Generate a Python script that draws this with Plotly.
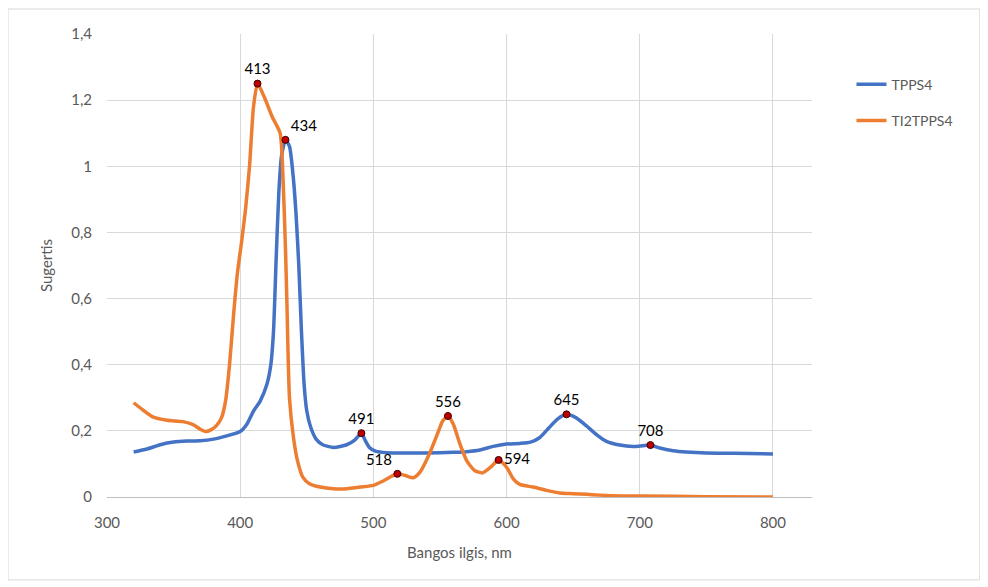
import plotly.graph_objects as go

# ---------------- data ----------------
tpps4_x = [320, 330, 340, 350, 360, 370, 380, 390, 400, 405, 410, 415, 420, 423, 425, 427, 429, 431, 434,
           437, 440, 442, 444, 446, 448, 450, 453, 457, 462, 470, 480, 486, 491, 494, 497, 502, 510, 520,
           540, 560, 570, 580, 590, 600, 610, 618, 625, 632, 638, 645, 652, 660, 668, 675, 685, 695, 702,
           708, 715, 725, 735, 750, 770, 800]
tpps4_y = [0.136, 0.145, 0.158, 0.166, 0.169, 0.170, 0.175, 0.185, 0.198, 0.22, 0.26, 0.29, 0.34, 0.40,
           0.50, 0.72, 0.92, 1.03, 1.08, 1.06, 0.96, 0.85, 0.70, 0.50, 0.34, 0.26, 0.21, 0.175, 0.158, 0.15,
           0.158, 0.172, 0.193, 0.17, 0.15, 0.138, 0.134, 0.133, 0.133, 0.135, 0.137, 0.142, 0.153, 0.16,
           0.162, 0.166, 0.18, 0.21, 0.235, 0.25, 0.24, 0.215, 0.187, 0.168, 0.157, 0.153, 0.155, 0.157,
           0.148, 0.14, 0.136, 0.133, 0.132, 0.130]

ti2_x = [320, 327, 334, 345, 357, 365, 370, 374, 378, 382, 386, 389, 392, 395, 398, 401, 404, 407, 410,
         413, 418, 424, 430, 432, 434, 435, 437, 440, 443, 447, 452, 460, 470, 480, 490, 500, 508,
         518, 524, 530, 535, 542, 548, 552, 556, 560, 565, 570, 576, 582, 588, 594, 600, 605, 610, 620,
         630, 640, 650, 660, 680, 700, 750, 800]
ti2_y = [0.285, 0.263, 0.243, 0.232, 0.228, 0.218, 0.205, 0.198, 0.203, 0.215, 0.24, 0.29, 0.40, 0.55,
         0.68, 0.77, 0.87, 1.00, 1.18, 1.25, 1.21, 1.15, 1.10, 0.98, 0.75, 0.60, 0.30, 0.18, 0.11,
         0.06, 0.04, 0.03, 0.025, 0.025, 0.03, 0.035, 0.05, 0.07, 0.065, 0.058, 0.075, 0.13, 0.19, 0.23,
         0.245, 0.22, 0.16, 0.11, 0.08, 0.073, 0.09, 0.112, 0.09, 0.055, 0.038, 0.03, 0.02, 0.012, 0.01,
         0.008, 0.004, 0.003, 0.001, 0.0]

tpps4_peak_x = [434, 491, 645, 708]
tpps4_peak_y = [1.08, 0.193, 0.25, 0.157]
tpps4_peak_pos = ["top right", "top center", "top center", "top center"]

ti2_peak_x = [413, 518, 556, 594]
ti2_peak_y = [1.25, 0.07, 0.245, 0.112]
ti2_peak_pos = ["top center", "top left", "top center", "middle right"]

y_ticks = [0, 0.2, 0.4, 0.6, 0.8, 1.0, 1.2, 1.4]
y_tick_labels = ["0", "0,2", "0,4", "0,6", "0,8", "1", "1,2", "1,4"]
x_ticks = [300, 400, 500, 600, 700, 800]

BLUE = "#4472C4"
ORANGE = "#ED7D31"
FONT = "Lato"
GREY = "#595959"

fig = go.Figure()
fig.add_trace(go.Scatter(x=tpps4_x, y=tpps4_y, mode="lines", name="TPPS4", legendgroup="a",
                         line=dict(color=BLUE, width=3.5, shape="spline", smoothing=0.6)))
fig.add_trace(go.Scatter(x=ti2_x, y=ti2_y, mode="lines", name="TI2TPPS4", legendgroup="b",
                         line=dict(color=ORANGE, width=3.5, shape="spline", smoothing=0.6)))

for px, py, pos in [(tpps4_peak_x, tpps4_peak_y, tpps4_peak_pos), (ti2_peak_x, ti2_peak_y, ti2_peak_pos)]:
    fig.add_trace(go.Scatter(x=px, y=py, mode="markers+text", showlegend=False,
                             text=[str(v) for v in px], textposition=pos,
                             textfont=dict(family=FONT, size=15, color="#000000"),
                             marker=dict(color="#C00000", size=7, line=dict(color="#3a0000", width=1)),
                             hoverinfo="skip"))

fig.update_layout(
    width=988, height=587,
    margin=dict(l=99, r=184, t=26, b=98),
    paper_bgcolor="white", plot_bgcolor="white",
    font=dict(family=FONT, size=14, color=GREY),
    legend=dict(x=1.056, y=0.925, xanchor="left", yanchor="top", tracegroupgap=15,
                font=dict(family=FONT, size=14, color=GREY), bgcolor="rgba(0,0,0,0)"),
    xaxis=dict(range=[300, 829.3], tickvals=x_ticks, ticktext=[str(v) for v in x_ticks],
               showgrid=True, gridcolor="#d9d9d9", gridwidth=1,
               showline=True, linecolor="#bfbfbf", linewidth=1, zeroline=False,
               ticks="", ticklabelstandoff=12, tickfont=dict(size=15, color=GREY),
               title=dict(text="Bangos ilgis, nm", font=dict(size=15, color=GREY), standoff=17)),
    yaxis=dict(range=[0, 1.4], tickvals=y_ticks, ticktext=y_tick_labels,
               showgrid=True, gridcolor="#d9d9d9", gridwidth=1, zeroline=False,
               showline=False, ticks="", ticklabelstandoff=14, tickfont=dict(size=15, color=GREY),
               title=dict(text="Sugertis", font=dict(size=15, color=GREY), standoff=14)),
    shapes=[dict(type="rect", xref="paper", yref="paper",
                 x0=-0.1404, x1=1.238, y0=-0.179, y1=1.054,
                 line=dict(color="#d9d9d9", width=1), fillcolor="rgba(0,0,0,0)", layer="below")],
)

fig.write_html("out.html")
